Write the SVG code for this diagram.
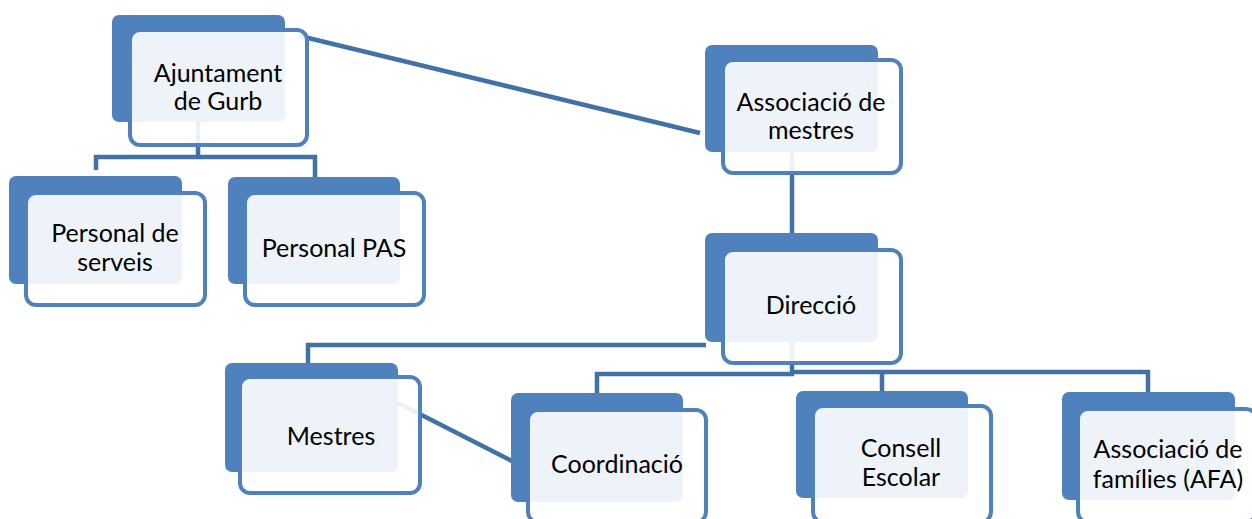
<svg xmlns="http://www.w3.org/2000/svg" width="1252" height="519" viewBox="0 0 1252 519">
<style>
.bk{fill:#4F81BD}
.fr{fill:#FFFFFF;fill-opacity:0.9;stroke:#4F81BD;stroke-width:4}
.cn{fill:none;stroke:#4271A8;stroke-width:4.5;stroke-linejoin:miter}
text{font-family:Lato,"Carlito","Liberation Sans",sans-serif;font-size:25px;fill:#000;text-anchor:middle}
</style>
<rect width="1252" height="519" fill="#FFFFFF"/>
<g id="connectors">
<path class="cn" d="M198,122 V157 M96,170 V157 H315 V177"/>
<path class="cn" d="M300,36 L700,133"/>
<path class="cn" d="M792,152 V233"/>
<path class="cn" d="M706,345 H308 V364"/>
<path class="cn" d="M792,342 V374 H597 V394 M792,372 H1148 V392 M882,372 V392"/>
<path class="cn" d="M398,403 L512,461"/>
</g>
<g id="ajuntament">
<rect class="bk" x="112" y="15" width="173" height="107" rx="7"/>
<rect class="fr" x="130" y="30" width="177" height="115" rx="10"/>
<text x="218" y="82">Ajuntament</text>
<text x="218" y="110">de Gurb</text>
</g>
<g id="personal-serveis">
<rect class="bk" x="9" y="176" width="173" height="108" rx="7"/>
<rect class="fr" x="26" y="193" width="179" height="112" rx="10"/>
<text x="115" y="242">Personal de</text>
<text x="115" y="271">serveis</text>
</g>
<g id="personal-pas">
<rect class="bk" x="228" y="177" width="172" height="107" rx="7"/>
<rect class="fr" x="245" y="193" width="179" height="112" rx="10"/>
<text x="334" y="257">Personal PAS</text>
</g>
<g id="associacio-mestres">
<rect class="bk" x="705" y="45" width="173" height="107" rx="7"/>
<rect class="fr" x="723" y="60" width="178" height="113" rx="10"/>
<text x="811" y="111">Associació de</text>
<text x="811" y="139">mestres</text>
</g>
<g id="direccio">
<rect class="bk" x="705" y="233" width="173" height="109" rx="7"/>
<rect class="fr" x="723" y="250" width="178" height="113" rx="10"/>
<text x="811" y="314">Direcció</text>
</g>
<g id="mestres">
<rect class="bk" x="225" y="363" width="173" height="109" rx="7"/>
<rect class="fr" x="240" y="377" width="180" height="116" rx="10"/>
<text x="331" y="445">Mestres</text>
</g>
<g id="coordinacio">
<rect class="bk" x="511" y="393" width="172" height="109" rx="7"/>
<rect class="fr" x="528" y="410" width="178" height="112" rx="10"/>
<text x="617" y="473">Coordinació</text>
</g>
<g id="consell-escolar">
<rect class="bk" x="796" y="391" width="172" height="107" rx="7"/>
<rect class="fr" x="813" y="406" width="178" height="116" rx="10"/>
<text x="901" y="457">Consell</text>
<text x="901" y="486">Escolar</text>
</g>
<g id="afa">
<rect class="bk" x="1062" y="392" width="173" height="108" rx="7"/>
<rect class="fr" x="1078" y="409" width="178" height="113" rx="10"/>
<text x="1168" y="458">Associació de</text>
<text x="1168" y="488">famílies (AFA)</text>
</g>
</svg>
